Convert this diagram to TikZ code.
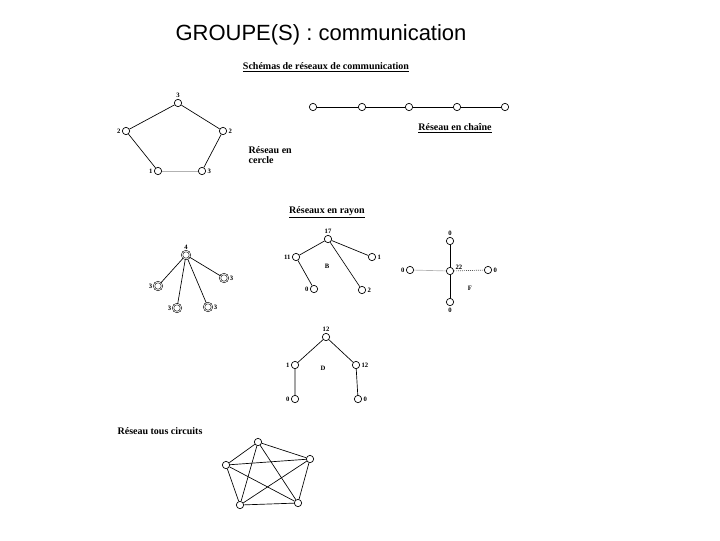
\documentclass[tikz,border=0pt]{standalone}
\usepackage{fontspec}
\setmainfont{Liberation Serif}
\newfontfamily\arial{Liberation Sans}
\begin{document}
\begin{tikzpicture}[x=0.75pt,y=-0.75pt,
  nd/.style={circle,draw,inner sep=0pt,minimum size=5.5pt,line width=0.5pt},
  dnd/.style={circle,draw,double,inner sep=0pt,minimum size=6pt,line width=0.4pt},
  lb/.style={font=\fontsize{5}{5}\selectfont\bfseries,inner sep=1pt},
  hd/.style={font=\fontsize{7.5}{8}\selectfont\bfseries},
  ed/.style={line width=0.5pt}]
\useasboundingbox (0,0) rectangle (720,540);
\node[font=\arial\fontsize{16.5}{17}\selectfont] (title) at (321,35) {GROUPE(S) : communication};
\node[hd] (sub) at (326,67) {\underline{Schémas de réseaux de communication}};
% circle
\node[nd] (c1) at (178,103) {}; \node[lb,above] at (c1.north) {3};
\node[nd] (c2) at (126,131) {}; \node[lb,left] at (c2.west) {2};
\node[nd] (c3) at (223,131) {}; \node[lb,right] at (c3.east) {2};
\node[nd] (c4) at (158,171) {}; \node[lb,left] at (c4.west) {1};
\node[nd] (c5) at (202,171) {}; \node[lb,right] at (c5.east) {3};
\draw[ed] (c1)--(c2) (c1)--(c3) (c2)--(c4) (c3)--(c5);
\draw[ed,gray!60] (c4)--(c5);
\node[hd,align=left,anchor=west] (rc) at (244,155) {Réseau en\\cercle};
% chain
\foreach \i/\x in {1/313,2/362,3/409,4/457,5/505} \node[nd] (h\i) at (\x,107) {};
\draw[ed] (h1)--(h2)--(h3)--(h4)--(h5);
\node[hd] (rch) at (455,128) {\underline{Réseau en chaîne}};
\node[hd] (ray) at (327,212) {\underline{Réseaux en rayon}};
% star 1
\node[dnd] (s0) at (186,255) {}; \node[lb,above] at (s0.north) {4};
\node[dnd] (s1) at (158,286) {}; \node[lb,left] at (s1.west) {3};
\node[dnd] (s2) at (177,308) {}; \node[lb,left] at (s2.west) {3};
\node[dnd] (s3) at (208,307) {}; \node[lb,right] at (s3.east) {3};
\node[dnd] (s4) at (224,278) {}; \node[lb,right] at (s4.east) {3};
\foreach \i in {1,...,4} \draw[ed] (s0)--(s\i);
% star 2
\node[nd] (t0) at (328,239) {}; \node[lb,above] at (t0.north) {17};
\node[nd] (t1) at (296,257) {}; \node[lb,left] at (t1.west) {11};
\node[nd] (t2) at (372,257) {}; \node[lb,right] at (t2.east) {1};
\node[nd] (t3) at (314,289) {}; \node[lb,left] at (t3.west) {0};
\node[nd] (t4) at (362,290) {}; \node[lb,right] at (t4.east) {2};
\draw[ed] (t0)--(t1) (t0)--(t2) (t0)--(t4) (t1)--(t3);
\node[lb] (tb) at (327,266) {B};
% cross
\node[nd] (x0) at (450,271) {}; \node[lb,above right] at (x0.east) {22};
\node[nd] (x1) at (450,241) {}; \node[lb,above] at (x1.north) {0};
\node[nd] (x2) at (410,270) {}; \node[lb,left] at (x2.west) {0};
\node[nd] (x3) at (488,270) {}; \node[lb,right] at (x3.east) {0};
\node[nd] (x4) at (450,302) {}; \node[lb,below] at (x4.south) {0};
\draw[ed] (x0)--(x1) (x0)--(x4);
\draw[ed,gray!60] (x0)--(x2);
\draw[ed,densely dotted] (x0)--(x3);
\node[lb] (xf) at (470,288) {F};
% Y
\node[nd] (y0) at (326,337) {}; \node[lb,above] at (y0.north) {12};
\node[nd] (y1) at (295,365) {}; \node[lb,left] at (y1.west) {1};
\node[nd] (y2) at (356,365) {}; \node[lb,right] at (y2.east) {12};
\node[nd] (y3) at (295,399) {}; \node[lb,left] at (y3.west) {0};
\node[nd] (y4) at (358,399) {}; \node[lb,right] at (y4.east) {0};
\draw[ed] (y0)--(y1)--(y3) (y0)--(y2)--(y4);
\node[lb] (yd) at (323,368) {D};
% complete
\node[hd] (rtc) at (160,431) {Réseau tous circuits};
\node[nd] (p1) at (258,442) {};
\node[nd] (p2) at (310,459) {};
\node[nd] (p3) at (298,503) {};
\node[nd] (p4) at (240,505) {};
\node[nd] (p5) at (226,465) {};
\foreach \a/\b in {1/2,1/3,1/4,1/5,2/3,2/4,2/5,3/5,3/4,4/5} \draw[ed] (p\a)--(p\b);
\end{tikzpicture}
\end{document}
